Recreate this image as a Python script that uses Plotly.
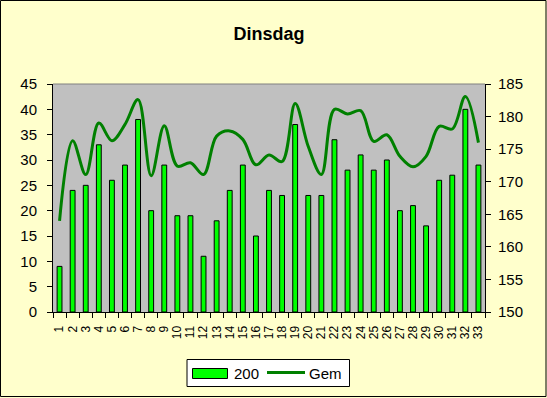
import plotly.graph_objects as go

# ---- data ----
categories = [str(i) for i in range(1, 34)]
values_200 = [9, 24, 25, 33, 26, 29, 38, 20, 29, 19, 19, 11, 18, 24, 29, 15, 24,
              23, 37, 23, 23, 34, 28, 31, 28, 30, 20, 21, 17, 26, 27, 40, 29]
values_gem = [164.0, 176.3, 171.1, 179.0, 176.3, 178.8, 182.6, 170.9, 178.6, 172.4,
              172.9, 171.1, 177.0, 177.8, 176.5, 172.6, 174.1, 173.1, 182.0, 175.4,
              171.1, 181.1, 180.4, 180.9, 176.2, 177.2, 173.9, 172.3, 173.9, 178.5,
              178.1, 183.1, 176.0]
series_names = ["200", "Gem"]
title_text = "Dinsdag"

# ---- layout geometry ----
W, H = 547, 398
ML, MR, MT, MB = 53, 62, 84, 86
PW, PH = W - ML - MR, H - MT - MB
FONT = "Liberation Sans, Arial, sans-serif"


def px(x):
    return (x - ML) / PW


def py(y):
    return (H - MB - y) / PH


fig = go.Figure()
fig.add_trace(go.Bar(
    x=categories, y=values_200, name=series_names[0],
    marker=dict(color="#00FF00", line=dict(color="black", width=1)),
    showlegend=False,
))
fig.add_trace(go.Scatter(
    x=categories, y=values_gem, name=series_names[1], yaxis="y2",
    mode="lines", line=dict(color="#008000", width=3, shape="spline", smoothing=1),
    showlegend=False,
))

shapes = [
    # top border of plot area
    dict(type="line", xref="paper", yref="paper", x0=0, x1=1, y0=1, y1=1,
         line=dict(color="#808080", width=1)),
    # outer chart border
    dict(type="rect", xref="paper", yref="paper", x0=px(0.5), x1=px(546), y0=py(396.5), y1=py(0.5),
         line=dict(color="black", width=1), fillcolor="rgba(0,0,0,0)"),
    # legend box
    dict(type="rect", xref="paper", yref="paper", x0=px(187), x1=px(349.5), y0=py(386.5), y1=py(359.5),
         line=dict(color="black", width=1), fillcolor="white"),
    # legend swatch for bars
    dict(type="rect", xref="paper", yref="paper", x0=px(192.5), x1=px(227.5), y0=py(378.5), y1=py(368.5),
         line=dict(color="black", width=1), fillcolor="#00FF00"),
    # legend line for Gem
    dict(type="line", xref="paper", yref="paper", x0=px(267), x1=px(305), y0=py(372.5), y1=py(372.5),
         line=dict(color="#008000", width=3)),
]
annotations = [
    dict(text=series_names[0], xref="paper", yref="paper", x=px(231.5), y=py(373),
         xanchor="left", yanchor="middle", showarrow=False,
         font=dict(family=FONT, size=15, color="black")),
    dict(text=series_names[1], xref="paper", yref="paper", x=px(307), y=py(373),
         xanchor="left", yanchor="middle", showarrow=False,
         font=dict(family=FONT, size=15, color="black")),
]

fig.update_layout(
    width=W, height=H, autosize=False,
    margin=dict(l=ML, r=MR, t=MT, b=MB, pad=0),
    paper_bgcolor="#FFFFCC", plot_bgcolor="#C0C0C0",
    font=dict(family=FONT, size=14, color="black"),
    title=dict(text=title_text, x=0.5, xanchor="center", xref="paper",
               y=1 - 34 / H, yanchor="middle", yref="container",
               font=dict(family=FONT, size=18, color="black", weight="bold")),
    bargap=0.63,
    showlegend=False,
    xaxis=dict(type="category", tickangle=-90, tickson="boundaries",
               tickmode="array", tickvals=categories, ticktext=categories,
               ticks="outside", ticklen=5, tickcolor="black", ticklabelstandoff=8,
               showline=True, linecolor="black", linewidth=1,
               showgrid=False, zeroline=False,
               tickfont=dict(family=FONT, size=12, color="black")),
    yaxis=dict(range=[0, 45], dtick=5, tick0=0, ticks="outside", ticklen=5,
               tickcolor="black", showline=True, linecolor="black", linewidth=1,
               showgrid=False, zeroline=False, ticklabelstandoff=7,
               tickfont=dict(family=FONT, size=15, color="black")),
    yaxis2=dict(range=[150, 185], dtick=5, tick0=150, overlaying="y", side="right",
                ticks="outside", ticklen=5, tickcolor="black",
                showline=True, linecolor="black", linewidth=1,
                showgrid=False, zeroline=False, ticklabelstandoff=4,
                tickfont=dict(family=FONT, size=15, color="black")),
    shapes=shapes,
    annotations=annotations,
)

fig.write_html("out.html",
               config={"displayModeBar": False},
               post_script="document.body.style.margin='0';document.body.style.padding='0';")
